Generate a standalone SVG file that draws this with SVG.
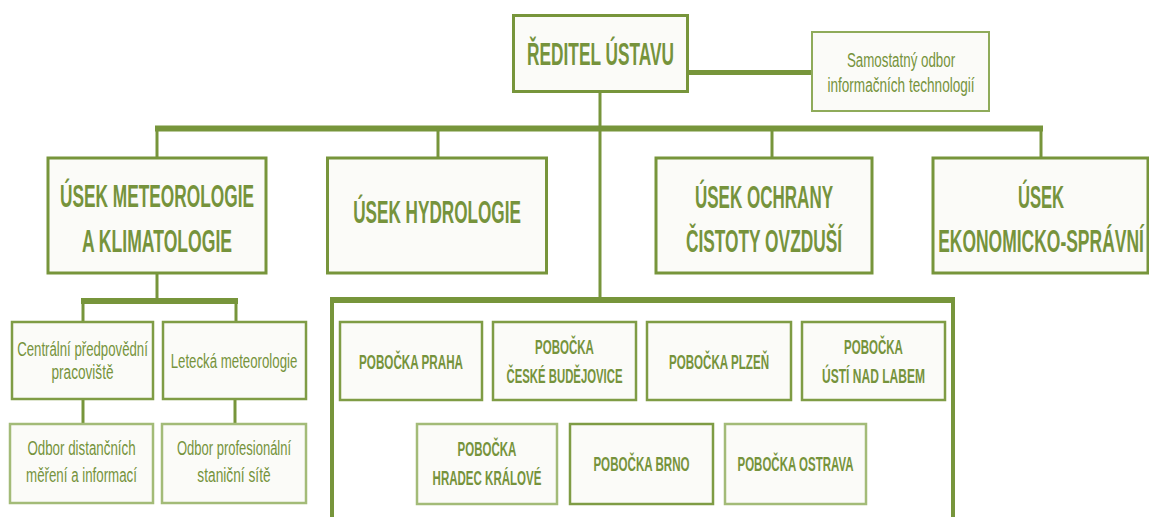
<svg xmlns="http://www.w3.org/2000/svg" width="1149" height="517" viewBox="0 0 1149 517">
<style>
.b1{fill:#fbfbf8;stroke:#77953b;stroke-width:3}
.b2{fill:#fbfbf8;stroke:#7f9c45;stroke-width:2.5}
.b3{fill:#fbfbf8;stroke:#a3bb78;stroke-width:2.5}
.bs{fill:#fbfbf8;stroke:#8fab5a;stroke-width:2}
.c{stroke:#77953b;fill:none}
text{fill:#76933c;text-anchor:middle;font-family:"Liberation Sans",Arial,sans-serif}
.h{font-size:32px;font-weight:bold}
.p{font-size:21px;font-weight:bold}
.s{font-size:20px}
</style>
<rect width="1149" height="517" fill="#ffffff"/>
<g id="connectors">
<line class="c" x1="688" y1="72.5" x2="812" y2="72.5" stroke-width="5"/>
<line class="c" x1="600" y1="91" x2="600" y2="300" stroke-width="3"/>
<line class="c" x1="155" y1="128.5" x2="1043" y2="128.5" stroke-width="6"/>
<line class="c" x1="157" y1="128" x2="157" y2="158" stroke-width="3"/>
<line class="c" x1="438" y1="128" x2="438" y2="158" stroke-width="3"/>
<line class="c" x1="772" y1="128" x2="772" y2="158" stroke-width="3"/>
<line class="c" x1="1041" y1="128" x2="1041" y2="158" stroke-width="3"/>
<line class="c" x1="157" y1="273" x2="157" y2="301" stroke-width="3"/>
<line class="c" x1="81" y1="301" x2="238" y2="301" stroke-width="6"/>
<line class="c" x1="83" y1="301" x2="83" y2="322" stroke-width="3"/>
<line class="c" x1="236" y1="301" x2="236" y2="322" stroke-width="3"/>
<line class="c" x1="83" y1="399" x2="83" y2="424" stroke-width="3"/>
<line class="c" x1="235" y1="399" x2="235" y2="424" stroke-width="3"/>
<line class="c" x1="330" y1="300" x2="955" y2="300" stroke-width="6"/>
<line class="c" x1="332" y1="300" x2="332" y2="517" stroke-width="4"/>
<line class="c" x1="953" y1="300" x2="953" y2="517" stroke-width="4"/>
</g>
<g id="reditel">
<rect class="b1" x="513.5" y="15.5" width="174" height="76"/>
<text class="h" transform="translate(600.5 65) scale(0.55 1)" textLength="267" lengthAdjust="spacingAndGlyphs">ŘEDITEL ÚSTAVU</text>
</g>
<g id="samostatny">
<rect class="bs" x="812" y="32" width="177" height="79"/>
<text class="s" transform="translate(901 67) scale(0.66 1)" textLength="164" lengthAdjust="spacingAndGlyphs">Samostatný odbor</text>
<text class="s" transform="translate(901 92) scale(0.66 1)" textLength="223" lengthAdjust="spacingAndGlyphs">informačních technologií</text>
</g>
<g id="meteo">
<rect class="b1" x="48" y="158" width="218" height="115"/>
<text class="h" transform="translate(157 207) scale(0.55 1)" textLength="353" lengthAdjust="spacingAndGlyphs">ÚSEK METEOROLOGIE</text>
<text class="h" transform="translate(157 252) scale(0.55 1)" textLength="273" lengthAdjust="spacingAndGlyphs">A KLIMATOLOGIE</text>
</g>
<g id="hydro">
<rect class="b1" x="327.5" y="158" width="219" height="115"/>
<text class="h" transform="translate(437 223) scale(0.55 1)" textLength="305" lengthAdjust="spacingAndGlyphs">ÚSEK HYDROLOGIE</text>
</g>
<g id="ochrana">
<rect class="b1" x="656" y="158" width="216" height="115"/>
<text class="h" transform="translate(764 208) scale(0.55 1)" textLength="251" lengthAdjust="spacingAndGlyphs">ÚSEK OCHRANY</text>
<text class="h" transform="translate(764 252) scale(0.55 1)" textLength="284" lengthAdjust="spacingAndGlyphs">ČISTOTY OVZDUŠÍ</text>
</g>
<g id="ekonom">
<rect class="b1" x="933" y="158" width="215" height="115"/>
<text class="h" transform="translate(1041 208) scale(0.55 1)" textLength="84" lengthAdjust="spacingAndGlyphs">ÚSEK</text>
<text class="h" transform="translate(1041 252) scale(0.55 1)" textLength="374" lengthAdjust="spacingAndGlyphs">EKONOMICKO-SPRÁVNÍ</text>
</g>
<g id="centralni">
<rect class="b2" x="12" y="322" width="141" height="77"/>
<text class="s" transform="translate(82.5 356) scale(0.66 1)" textLength="198" lengthAdjust="spacingAndGlyphs">Centrální předpovědní</text>
<text class="s" transform="translate(82.5 379) scale(0.66 1)" textLength="94" lengthAdjust="spacingAndGlyphs">pracoviště</text>
</g>
<g id="letecka">
<rect class="b2" x="163" y="322" width="143" height="77"/>
<text class="s" transform="translate(234 368) scale(0.66 1)" textLength="192" lengthAdjust="spacingAndGlyphs">Letecká meteorologie</text>
</g>
<g id="distancni">
<rect class="b3" x="10" y="424" width="143" height="79"/>
<text class="s" transform="translate(81.5 455) scale(0.66 1)" textLength="164" lengthAdjust="spacingAndGlyphs">Odbor distančních</text>
<text class="s" transform="translate(81.5 482) scale(0.66 1)" textLength="168" lengthAdjust="spacingAndGlyphs">měření a informací</text>
</g>
<g id="profesionalni">
<rect class="b3" x="162" y="424" width="144" height="79"/>
<text class="s" transform="translate(234 455) scale(0.66 1)" textLength="173" lengthAdjust="spacingAndGlyphs">Odbor profesionální</text>
<text class="s" transform="translate(234 482) scale(0.66 1)" textLength="111" lengthAdjust="spacingAndGlyphs">staniční sítě</text>
</g>
<g id="praha">
<rect class="b2" x="340" y="322" width="142" height="78"/>
<text class="p" transform="translate(411 369) scale(0.55 1)" textLength="189" lengthAdjust="spacingAndGlyphs">POBOČKA PRAHA</text>
</g>
<g id="budejovice">
<rect class="b2" x="493" y="322" width="143" height="78"/>
<text class="p" transform="translate(564.5 354) scale(0.55 1)" textLength="107" lengthAdjust="spacingAndGlyphs">POBOČKA</text>
<text class="p" transform="translate(564.5 383) scale(0.55 1)" textLength="211" lengthAdjust="spacingAndGlyphs">ČESKÉ BUDĚJOVICE</text>
</g>
<g id="plzen">
<rect class="b2" x="647" y="322" width="144" height="78"/>
<text class="p" transform="translate(719 369) scale(0.55 1)" textLength="182" lengthAdjust="spacingAndGlyphs">POBOČKA PLZEŇ</text>
</g>
<g id="usti">
<rect class="b2" x="802" y="322" width="143" height="78"/>
<text class="p" transform="translate(873.5 354) scale(0.55 1)" textLength="107" lengthAdjust="spacingAndGlyphs">POBOČKA</text>
<text class="p" transform="translate(873.5 383) scale(0.55 1)" textLength="187" lengthAdjust="spacingAndGlyphs">ÚSTÍ NAD LABEM</text>
</g>
<g id="hradec">
<rect class="b3" x="417" y="424" width="140" height="80"/>
<text class="p" transform="translate(487 456) scale(0.55 1)" textLength="107" lengthAdjust="spacingAndGlyphs">POBOČKA</text>
<text class="p" transform="translate(487 485) scale(0.55 1)" textLength="198" lengthAdjust="spacingAndGlyphs">HRADEC KRÁLOVÉ</text>
</g>
<g id="brno">
<rect class="b2" x="570" y="424" width="143" height="80"/>
<text class="p" transform="translate(641.5 471) scale(0.55 1)" textLength="175" lengthAdjust="spacingAndGlyphs">POBOČKA BRNO</text>
</g>
<g id="ostrava">
<rect class="b3" x="725" y="424" width="141" height="80"/>
<text class="p" transform="translate(795.5 471) scale(0.55 1)" textLength="211" lengthAdjust="spacingAndGlyphs">POBOČKA OSTRAVA</text>
</g>
</svg>
